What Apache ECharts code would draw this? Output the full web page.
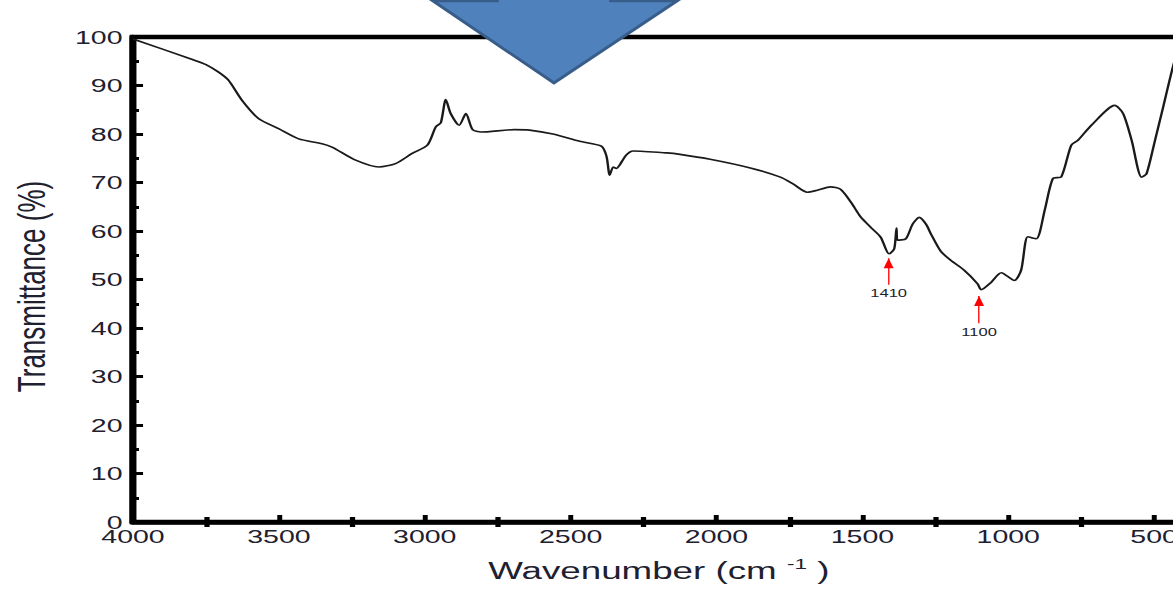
<!DOCTYPE html>
<html><head><meta charset="utf-8">
<script src="https://cdn.jsdelivr.net/npm/echarts@6/dist/echarts.min.js"></script>
<style>
html,body{margin:0;padding:0;overflow:hidden;background:#fff;width:1173px;height:592px;}
#c{width:880px;height:592px;transform:scaleX(1.5);transform-origin:0 0;}
</style></head><body><div id="c"></div>
<script>
// ---- data ----
const wavenumbers = [4000, 3799, 3750, 3708, 3673, 3627, 3570, 3501, 3432, 3352, 3318, 3237, 3157, 3100, 3043,
  2991, 2962, 2945, 2928, 2911, 2882, 2859, 2836, 2807, 2693, 2641, 2561, 2469, 2395, 2377, 2366, 2354, 2343,
  2332, 2309, 2286, 2171, 2125, 2022, 1884, 1781, 1735, 1689, 1655, 1609, 1575, 1540, 1506, 1472, 1437, 1409,
  1391, 1383, 1380, 1351, 1328, 1305, 1282, 1265, 1231, 1196, 1151, 1105, 1093, 1059, 1024, 979, 956, 933,
  904, 875, 847, 818, 784, 761, 715, 635, 606, 577, 543, 526, 497, 468, 428, 400];
const transmittance = [99.6, 95.4, 94.3, 92.8, 91.1, 87.0, 83.2, 81.1, 79.0, 78.0, 77.3, 74.6, 73.2, 73.9, 76.0,
  77.7, 81.5, 82.3, 87.1, 84.2, 81.8, 84.2, 80.9, 80.4, 80.9, 80.8, 80.0, 78.5, 77.5, 75.4, 71.5, 73.2, 72.9,
  73.6, 75.7, 76.5, 76.1, 75.8, 74.8, 73.0, 71.1, 69.6, 68.0, 68.4, 69.1, 68.6, 66.0, 62.9, 60.8, 58.7, 55.3,
  56.3, 60.6, 58.1, 58.4, 61.4, 62.8, 61.4, 59.4, 55.8, 53.9, 51.9, 49.1, 47.9, 49.4, 51.4, 49.8, 51.9, 58.8,
  58.4, 64.3, 70.8, 71.2, 77.7, 78.7, 81.8, 85.9, 84.2, 78.7, 71.1, 71.8, 78.7, 85.8, 95.5, 99.0];
const peakPositions = [1410, 1100];
const peakLabels = ['1410', '1100'];
const arrowTip = [54.4, 46.6];
const arrowBase = [48.9, 41.0];
const xName = 'Wavenumber (cm {sup|-1} )';
const yName = 'Transmittance (%)';

const FONT = 'Liberation Sans, Arial, sans-serif';
const TXT = '#20202e';
const seriesData = wavenumbers.map((w, i) => [w, transmittance[i]]);

const chart = echarts.init(document.getElementById('c'), null, {renderer: 'svg', width: 880, height: 592});
const xCommon = {type: 'value', inverse: true, min: 0, max: 4000, interval: 500, gridIndex: 0, position: 'bottom', splitLine: {show: false}};
chart.setOption({
  animation: false,
  backgroundColor: '#fff',
  grid: {left: 88.67, right: 13.33, top: 37, bottom: 70, show: true, borderColor: '#000', borderWidth: 4.5,
         containLabel: false, outerBoundsMode: 'none'},
  xAxis: [
    Object.assign({}, xCommon, {
      name: xName, nameLocation: 'middle', nameGap: 34,
      nameTextStyle: {fontFamily: FONT, fontSize: 24.5, color: TXT, padding: [0, 77, 0, 0],
        rich: {sup: {fontFamily: FONT, fontSize: 15, color: TXT, padding: [0, 0, 14, 0]}}},
      axisLine: {onZero: false, lineStyle: {color: '#000', width: 4.5}},
      axisTick: {show: true, inside: true, length: 7, lineStyle: {color: '#000', width: 3.3}},
      minorTick: {show: true, splitNumber: 2, length: 5, lineStyle: {color: '#000', width: 3.5}},
      axisLabel: {fontFamily: FONT, fontSize: 19, color: TXT, margin: 5, showMinLabel: true, showMaxLabel: true,
                  formatter: v => String(v)}
    }),
    Object.assign({}, xCommon, {
      axisLine: {show: false, onZero: false},
      axisTick: {show: false, inside: false},
      minorTick: {show: true, splitNumber: 2, length: 5, lineStyle: {color: '#000', width: 3.5}},
      axisLabel: {show: false}
    })
  ],
  yAxis: {
    type: 'value', min: 0, max: 100, interval: 10,
    name: yName, nameLocation: 'middle', nameGap: 55,
    nameTextStyle: {fontFamily: FONT, fontSize: 26, color: TXT, padding: [0, 14, 0, 0]},
    axisLine: {onZero: false, lineStyle: {color: '#000', width: 4.5}},
    axisTick: {show: true, inside: true, length: 6.7, lineStyle: {color: '#000', width: 3}},
    minorTick: {show: true, splitNumber: 2, length: 4, lineStyle: {color: '#000', width: 3}},
    splitLine: {show: false},
    axisLabel: {fontFamily: FONT, fontSize: 19, color: TXT, margin: 7, showMinLabel: true, showMaxLabel: true,
                formatter: v => String(v)}
  },
  series: [{
    type: 'line', xAxisIndex: 0, yAxisIndex: 0, data: seriesData,
    showSymbol: false, smooth: 0.25,
    lineStyle: {color: '#1a1a1a', width: 1.6},
    markLine: {
      silent: true, symbol: ['none', 'none'],
      lineStyle: {color: '#ff2020', width: 1, type: 'solid'},
      label: {show: true, position: 'start', distance: 3, fontFamily: FONT, fontSize: 11, color: TXT,
              formatter: p => p.name},
      data: peakPositions.map((w, i) => [
        {name: peakLabels[i], coord: [w, arrowBase[i]]},
        {coord: [w, arrowTip[i]]}
      ])
    },
    markPoint: {
      silent: true, symbol: 'triangle', symbolSize: [6.7, 10], symbolOffset: [0, 5],
      itemStyle: {color: '#ff0000'}, label: {show: false},
      data: peakPositions.map((w, i) => ({coord: [w, arrowTip[i]]}))
    }
  }],
  graphic: [{
    type: 'polygon', z: 100,
    shape: {points: [[331.3, -20], [407.3, -20], [407.3, 1], [451.3, 1], [369.3, 83], [288.7, 1], [331.3, 1]]},
    style: {fill: '#4f81bd', stroke: '#385d8a', lineWidth: 2.5}
  }]
});
</script></body></html>
